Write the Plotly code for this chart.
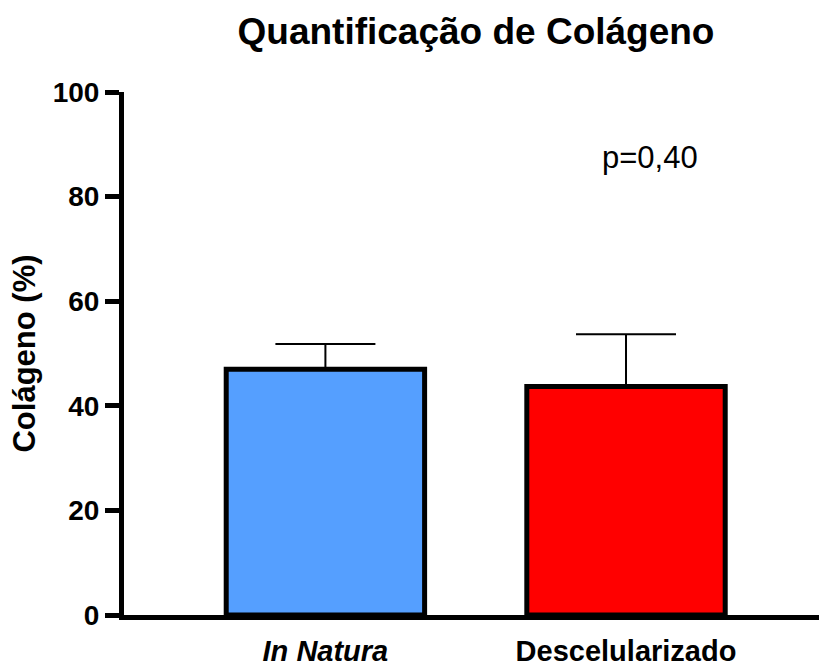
import plotly.graph_objects as go

categories = ["<i>In Natura</i>", "Descelularizado"]
means = [47.0, 43.7]
sd_upper = [4.8, 10.0]
colors = ["#559FFF", "#FF0000"]
y_ticks = [0, 20, 40, 60, 80, 100]

xpos = list(range(len(categories)))

fig = go.Figure()
fig.add_trace(go.Bar(
    x=xpos, y=means, width=0.66,
    marker=dict(color=colors, line=dict(color="black", width=5)),
    error_y=dict(type="data", symmetric=False, array=sd_upper,
                 arrayminus=[0] * len(means), color="black",
                 thickness=2, width=50),
))

fig.add_annotation(x=1.08, y=87.5, xref="x", yref="y", text="p=0,40",
                   showarrow=False,
                   font=dict(family="Liberation Sans, Arial", size=31, color="black"))

fig.update_layout(
    width=819, height=671,
    margin=dict(l=124, r=0, t=92, b=56),
    plot_bgcolor="white", paper_bgcolor="white",
    showlegend=False,
    title=dict(text="<b>Quantificação de Colágeno</b>", x=476 / 819, xanchor="center",
               y=1 - 31 / 671, yanchor="middle",
               font=dict(family="Liberation Sans, Arial", size=37, color="black")),
    font=dict(family="Liberation Sans, Arial", color="black"),
)
fig.update_xaxes(
    range=[-0.67, 1.642], tickvals=xpos, ticktext=categories,
    showline=True, linecolor="black", linewidth=5, ticks="",
    showgrid=False, zeroline=False, ticklabelstandoff=6,
    tickfont=dict(family="Liberation Sans, Arial", size=29, weight="bold", color="black"),
)
fig.update_yaxes(
    range=[0, 100], tickvals=y_ticks,
    showline=True, linecolor="black", linewidth=5,
    ticks="outside", ticklen=14, tickwidth=5, tickcolor="black",
    showgrid=False, zeroline=False,
    tickfont=dict(family="Liberation Sans, Arial", size=28, weight="bold", color="black"),
    title=dict(text="Colágeno (%)", standoff=9,
               font=dict(family="Liberation Sans, Arial", size=31, weight="bold", color="black")),
)

fig.write_html("out.html")
